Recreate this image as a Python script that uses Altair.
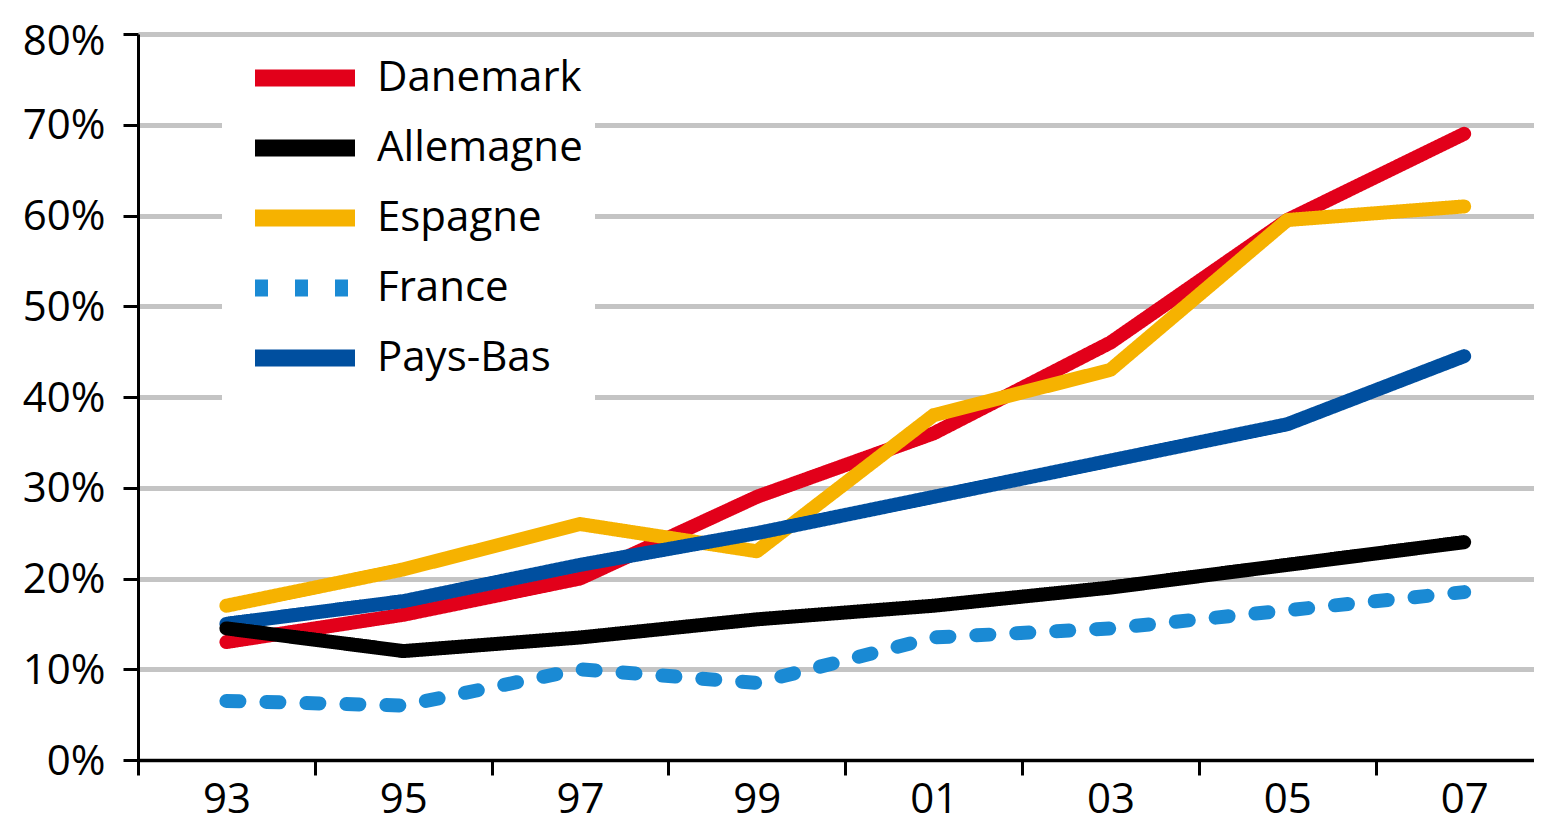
import altair as alt
import pandas as pd

years = [1993, 1995, 1997, 1999, 2001, 2003, 2005, 2007]
danemark = [13.0, 16.0, 20.0, 29.0, 36.0, 46.0, 59.5, 69.0]
allemagne = [14.5, 12.0, 13.5, 15.5, 17.0, 19.0, 21.5, 24.0]
espagne = [17.0, 21.0, 26.0, 23.0, 38.0, 43.0, 59.5, 61.0]
france = [6.5, 6.0, 10.0, 8.5, 13.5, 14.5, 16.5, 18.5]
pays_bas = [15.0, 17.5, 21.5, 25.0, 29.0, 33.0, 37.0, 44.5]

countries = ["Danemark", "Allemagne", "Espagne", "France", "Pays-Bas"]
colors = ["#e2001a", "#000000", "#f6b200", "#1a8ad4", "#004f9f"]
dashes = [[1, 0], [1, 0], [1, 0], [13, 27], [1, 0]]

series = {
    "Danemark": danemark,
    "Espagne": espagne,
    "Pays-Bas": pays_bas,
    "Allemagne": allemagne,
    "France": france,
}

rows = []
for name, vals in series.items():
    for yr, v in zip(years, vals):
        rows.append({"year": yr, "value": v / 100.0, "country": name})
df = pd.DataFrame(rows)

FONT = "Open Sans"

legend_spec = dict(
    orient="none",
    legendX=84,
    legendY=11,
    title=None,
    padding=12,
    fillColor="white",
    symbolType="M-4,0L4,0",
    symbolSize=625,
    symbolOffset=50,
    symbolStrokeWidth=17,
    labelFontSize=42,
    labelFont=FONT,
    labelColor="black",
    labelOffset=51,
    labelLimit=0,
    rowPadding=2,
)

chart = (
    alt.Chart(df)
    .mark_line(strokeWidth=14, strokeCap="round", strokeJoin="round")
    .encode(
        x=alt.X(
            "year:Q",
            scale=alt.Scale(domain=[1992, 2007.79], nice=False, zero=False),
            axis=alt.Axis(
                values=list(range(1992, 2008)),
                labelExpr="datum.value % 2 == 1 ? slice(toString(datum.value), 2) : ''",
                tickOpacity={"condition": {"test": "datum.value % 2 == 1", "value": 0}, "value": 1},
                labelOverlap=False,
                labelFlush=False,
                grid=False,
                title=None,
                tickSize=15,
                tickWidth=3,
                tickColor="black",
                domainColor="black",
                domainWidth=3,
                labelFont=FONT,
                labelFontSize=42,
                labelColor="black",
                labelPadding=4,
                labelBaseline="top",
            ),
        ),
        y=alt.Y(
            "value:Q",
            scale=alt.Scale(domain=[0, 0.8], nice=False),
            axis=alt.Axis(
                values=[0, 0.1, 0.2, 0.3, 0.4, 0.5, 0.6, 0.7, 0.8],
                format=".0%",
                title=None,
                grid=True,
                gridColor="#c4c4c4",
                gridWidth=5,
                tickSize=15,
                tickWidth=3,
                tickColor="black",
                domainColor="black",
                domainWidth=3,
                labelFont=FONT,
                labelFontSize=42,
                labelColor="black",
                labelPadding=18,
                labelOffset={"condition": {"test": "datum.value > 0.79", "value": 7}, "value": 1},
                labelFlush=False,
                labelOverlap=False,
            ),
        ),
        color=alt.Color(
            "country:N",
            scale=alt.Scale(domain=countries, range=colors),
            legend=alt.Legend(**legend_spec),
        ),
        strokeDash=alt.StrokeDash(
            "country:N",
            scale=alt.Scale(domain=countries, range=dashes),
            legend=alt.Legend(**legend_spec),
        ),
    )
    .properties(
        width=1396,
        height=726,
        autosize=alt.AutoSizeParams(type="none"),
        padding={"left": 130, "top": 26, "right": 0, "bottom": 63},
        background="white",
    )
    .configure_view(stroke=None)
)

chart.save("out.html", embed_options={"renderer": "svg", "actions": False})
